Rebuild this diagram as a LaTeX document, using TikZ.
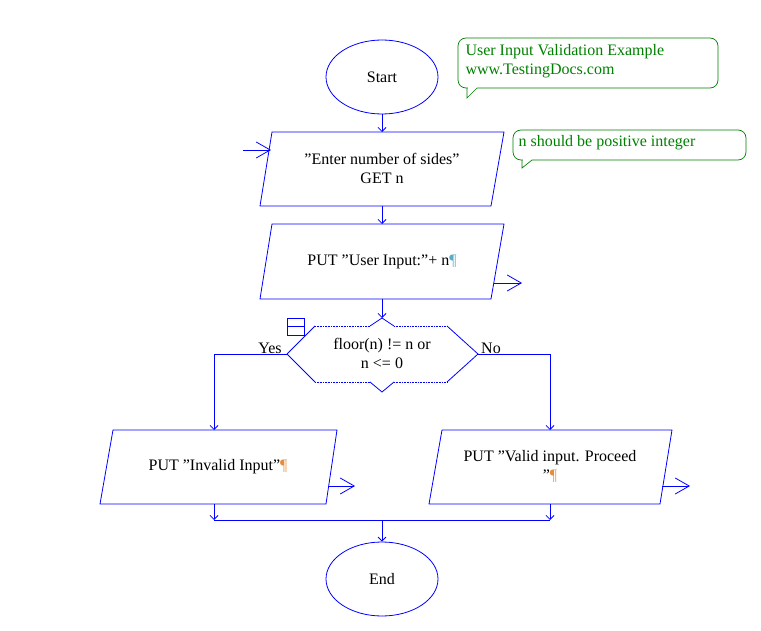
\documentclass[tikz,border=0pt]{standalone}
\usepackage{fontspec}
\setmainfont{Liberation Serif}
\usetikzlibrary{arrows.meta,shapes.geometric}
\definecolor{fb}{RGB}{0,0,255}
\definecolor{fg}{RGB}{0,128,0}
\newcommand{\qq}{\char34\relax}
\begin{document}
\begin{tikzpicture}[x=1pt,y=-1pt,
  every node/.style={font=\fontsize{16}{19}\selectfont, align=center},
  ln/.style={draw=fb, line width=0.8pt},
  ar/.style={ln, -{Straight Barb[length=4pt,width=8pt]}},
  bigar/.style={ln, -{Straight Barb[length=14pt,width=16pt]}},
  term/.style={ellipse, draw=fb, line width=0.8pt, minimum width=112pt, minimum height=74pt},
  cmt/.style={draw=fg, line width=0.7pt},
  ct/.style={text=fg, align=left, anchor=west}]
\useasboundingbox (0,0) rectangle (761,631);
% Start
\node[term] (start) at (382,77) {Start};
% input
\draw[ln] (272,132) -- (504,132) -- (491,206) -- (260,206) -- cycle;
\node (in) at (382,168) {\qq Enter number of sides\qq\\GET n};
\coordinate (inT) at (382,132); \coordinate (inB) at (382,206);
\coordinate (e0) at (243,150); \coordinate (e1) at (271,150);
\draw[bigar] (e0) -- (e1);
% output 1
\draw[ln] (272,224) -- (504,224) -- (491,299) -- (260,299) -- cycle;
\node (out1) at (382,262) {PUT \qq User Input:\qq+ n\textcolor[RGB]{90,170,200}{¶}};
\coordinate (o1T) at (382,224); \coordinate (o1B) at (382,299);
\coordinate (o1a) at (494,283); \coordinate (o1b) at (522,283);
\draw[bigar] (o1a) -- (o1b);
% decision
\coordinate (dT) at (382,318); \coordinate (dL) at (287,354); \coordinate (dR) at (478,354);
\draw[ln] (dL) -- (315,326) (447,326) -- (dR) -- (447,382) (315,382) -- (dL);
\draw[ln] (370,326) -- (dT) -- (394,326) (370,382) -- (382,392) -- (394,382);
\draw[fb, line width=0.6pt, densely dotted] (315,326) -- (370,326) (394,326) -- (447,326) (315,382) -- (370,382) (394,382) -- (447,382);
\node (dec) at (382,353) {floor(n) != n or\\n <= 0};
\draw[ln] (287,318) rectangle (304,335) (287,326.5) -- (304,326.5);
\node (yes) at (270,348) {Yes};
\node (no) at (491,348) {No};
% invalid
\draw[ln] (113,430) -- (337,430) -- (326,504) -- (100,504) -- cycle;
\node (inv) at (218,467) {PUT \qq Invalid Input\qq\textcolor[RGB]{230,140,60}{¶}};
\coordinate (ivT) at (214,430); \coordinate (ivB) at (214,504);
\coordinate (iva) at (328,486); \coordinate (ivb) at (355,486);
\draw[bigar] (iva) -- (ivb);
% valid
\draw[ln] (442,430) -- (672,430) -- (660,504) -- (429,504) -- cycle;
\node (val) at (550,466) {PUT \qq Valid input. Proceed\\\qq\textcolor[RGB]{230,140,60}{¶}};
\coordinate (vaT) at (550,430); \coordinate (vaB) at (550,504);
\coordinate (vaa) at (662,486); \coordinate (vab) at (690,486);
\draw[bigar] (vaa) -- (vab);
% End
\node[term] (end) at (382,579) {End};
% connectors
\draw[ar] (start.south) -- (inT);
\draw[ar] (inB) -- (o1T);
\draw[ar] (o1B) -- (dT);
\draw[ar] (dL) -| (ivT);
\draw[ar] (dR) -| (vaT);
\coordinate (j1) at (214,520); \coordinate (j2) at (550,520); \coordinate (j0) at (382,520);
\draw[ar] (ivB) -- (j1);
\draw[ar] (vaB) -- (j2);
\draw[ln] (j1) -- (j2);
\draw[ar] (j0) -- (end.north);
% comments
\draw[cmt, rounded corners=8pt] (458,38) rectangle (718,88);
\fill[white] (467.5,87) rectangle (476.5,89.5);
\draw[cmt] (467,88) -- (467,98) -- (477,88);
\node[ct] (c1) at (462,61) {User Input Validation Example\\www.TestingDocs.com};
\draw[cmt, rounded corners=8pt] (513,130) rectangle (746,160);
\fill[white] (522.5,159) rectangle (531.5,161.5);
\draw[cmt] (522,160) -- (522,168) -- (532,160);
\node[ct] (c2) at (515,143) {n should be positive integer};
\end{tikzpicture}
\end{document}
